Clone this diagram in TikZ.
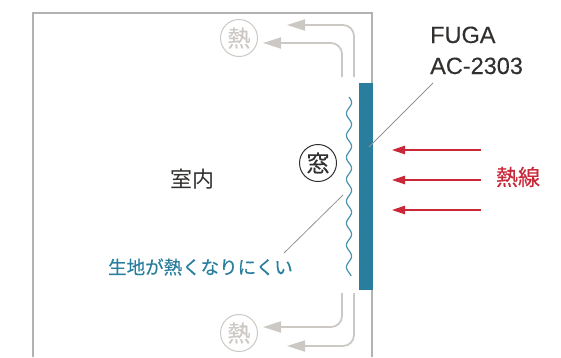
\documentclass[tikz,border=0pt]{standalone}
\usepackage{xcolor}
\usepackage{fontspec}
\setmainfont[FakeBold=0.25]{Liberation Sans}
\newfontfamily\jpfont{Noto Sans CJK JP}
\newfontfamily\jpmed[FakeBold=0.4]{Noto Sans CJK JP}
\usetikzlibrary{arrows.meta, shapes}
\definecolor{wallgray}{RGB}{180, 178, 176}
\definecolor{heatgray}{RGB}{204, 201, 197}
\definecolor{fugablue}{RGB}{41, 126, 157}
\definecolor{rayred}{RGB}{200, 40, 56}
\definecolor{textgray}{RGB}{50, 48, 47}
\tikzset{
    wall/.style={wallgray, line width=1.4pt},
    leader/.style={gray!85, line width=0.8pt},
    heatflow/.style={heatgray, line width=1.8pt, rounded corners=11pt, -{Triangle[length=18pt, width=11pt]}},
    heatray/.style={rayred, line width=1.2pt, -{Triangle[length=13pt, width=8.5pt]}},
    badge/.style={circle, draw, line width=1pt, minimum size=37pt, inner sep=0pt, font=\jpmed\fontsize{23}{23}\selectfont}
}
\begin{document}
\begin{tikzpicture}[x=1pt, y=-1pt]
    \useasboundingbox (0,0) rectangle (561,357);
    % Room
    \coordinate (wallbl) at (33,357);
    \coordinate (walltl) at (33,13);
    \coordinate (walltr) at (372,13);
    \coordinate (wallmt) at (372,83);
    \coordinate (wallmb) at (372,290);
    \coordinate (wallbr) at (372,357);
    \draw[wall] (wallbl) -- (walltl) -- (walltr) -- (wallmt);
    \draw[wall] (wallmb) -- (wallbr);
    \node[textgray, font=\jpfont\fontsize{22}{22}\selectfont] (room) at (192,179) {室内};

    % Window and curtain
    \fill[fugablue] (359,83) rectangle (373,290);
    \draw[fugablue!85, line width=1.2pt, smooth, domain=97:276, samples=90]
        plot ({349+2.6*sin(16.4*(\x-97))}, \x);
    \node[badge, draw=textgray, text=textgray] (window) at (318,163) {窓};

    % Heat going up
    \node[badge, heatgray] (heattop) at (239,38) {熱};
    \coordinate (upa) at (354,77);
    \coordinate (upb) at (342,77);
    \coordinate (uptipa) at (287,25);
    \coordinate (uptipb) at (263,43);
    \draw[heatflow] (upa) |- (uptipa);
    \draw[heatflow] (upb) |- (uptipb);

    % Heat going down
    \node[badge, heatgray] (heatbottom) at (239,333) {熱};
    \coordinate (downa) at (354,293);
    \coordinate (downb) at (342,293);
    \coordinate (downtipa) at (287,346);
    \coordinate (downtipb) at (263,327);
    \draw[heatflow] (downa) |- (downtipa);
    \draw[heatflow] (downb) |- (downtipb);

    % Labels and leaders
    \node[anchor=base west, inner sep=0pt, text=textgray, font=\fontsize{23.5}{23.5}\selectfont] (fuga) at (430,43) {FUGA};
    \node[anchor=base west, inner sep=0pt, text=textgray, font=\fontsize{23.5}{23.5}\selectfont] (model) at (430,74) {AC-2303};
    \coordinate (modelend) at (433,83);
    \coordinate (windowend) at (369,147);
    \draw[leader] (modelend) -- (windowend);
    \node[fugablue, font=\jpmed\fontsize{18.5}{18.5}\selectfont] (cloth) at (200.5,267) {生地が熱くなりにくい};
    \coordinate (clothend) at (284,253);
    \coordinate (curtainend) at (343,195);
    \draw[leader] (clothend) -- (curtainend);

    % Heat rays
    \foreach \y in {150,180,210} {
        \coordinate (raystart) at (481,\y);
        \coordinate (raytip) at (392,\y);
        \draw[heatray] (raystart) -- (raytip);
    }
    \node[rayred, font=\jpmed\fontsize{22}{22}\selectfont] (rays) at (518,177) {熱線};
\end{tikzpicture}
\end{document}
